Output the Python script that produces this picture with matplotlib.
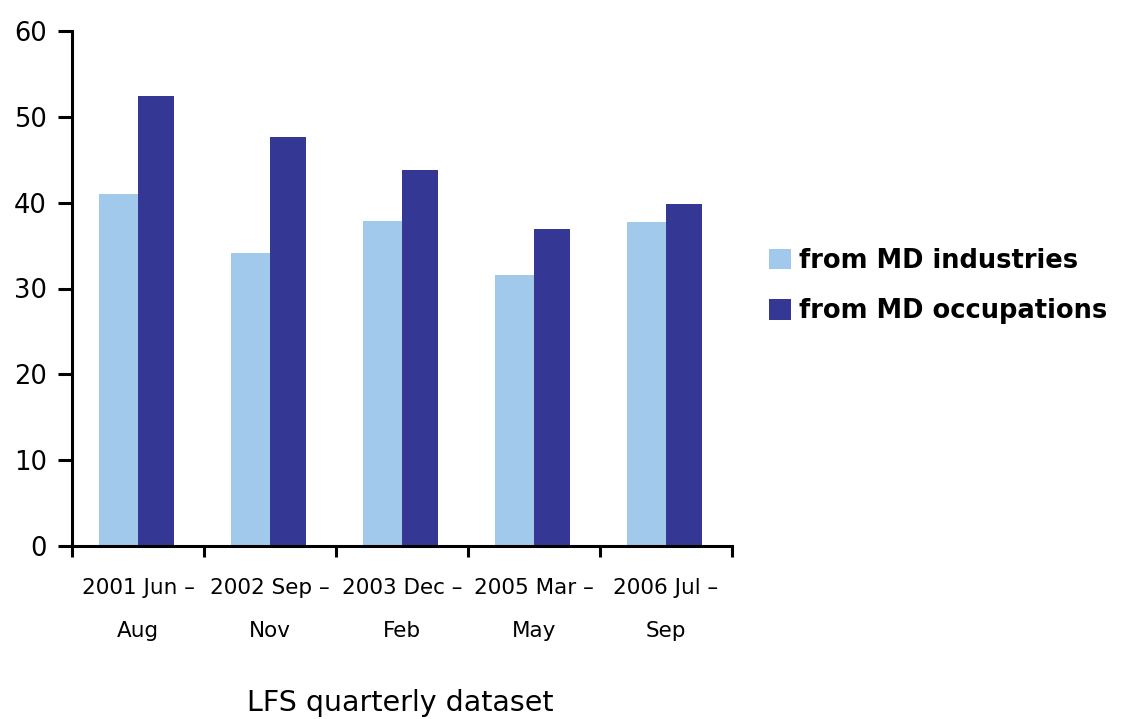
import matplotlib
matplotlib.use("Agg")
import matplotlib.pyplot as plt
import numpy as np
from matplotlib.patches import Patch

categories = ["2001 Jun –\nAug", "2002 Sep –\nNov", "2003 Dec –\nFeb", "2005 Mar –\nMay", "2006 Jul –\nSep"]
industries = [41.0, 34.1, 37.9, 31.6, 37.7]
occupations = [52.4, 47.7, 43.8, 36.9, 39.9]
series_names = ["from MD industries", "from MD occupations"]
yticks = [0, 10, 20, 30, 40, 50, 60]

light = "#A0C9EB"
dark = "#353795"

plt.rcParams['font.family'] = ['DejaVu Sans']
fig = plt.figure(figsize=(11.23, 7.19), dpi=100)
ax = fig.add_axes([72/1123, 1 - 546/719, 660/1123, 515/719])

x = np.arange(len(categories))
ax.bar(x - 0.295, industries, width=0.295, align='edge', color=light, linewidth=0)
ax.bar(x, occupations, width=0.27, align='edge', color=dark, linewidth=0)

ax.set_xlim(-0.5, len(categories) - 0.5)
ax.set_ylim(0, 60)
ax.set_yticks(yticks)
ax.set_yticklabels([str(v) for v in yticks], fontsize=18.5)
ax.tick_params(axis='y', direction='out', length=10, width=2.2, pad=8)

ax.set_xticks(np.arange(len(categories) + 1) - 0.5)
ax.set_xticklabels([])
ax.tick_params(axis='x', direction='out', length=8, width=2.2)
for i, lab in enumerate(categories):
    ax.text(i, -3.7, lab, ha='center', va='top', fontsize=15.5, fontweight='medium',
            linespacing=2.45, transform=ax.transData)

for s in ['top', 'right']:
    ax.spines[s].set_visible(False)
for s in ['left', 'bottom']:
    ax.spines[s].set_linewidth(2.2)

fig.text(400/1123, 1 - 703/719, "LFS quarterly dataset", ha='center', va='center', fontsize=20.5)

handles = [Patch(facecolor=light, edgecolor='none'), Patch(facecolor=dark, edgecolor='none')]
leg = fig.legend(handles, series_names, loc='center left', bbox_to_anchor=(746/1123, 1 - 286/719),
                 frameon=False, prop={'size': 18.5, 'weight': 'bold'},
                 handlelength=0.85, handleheight=0.85, handletextpad=0.3, labelspacing=0.95)

fig.savefig("out.png", dpi=100)
